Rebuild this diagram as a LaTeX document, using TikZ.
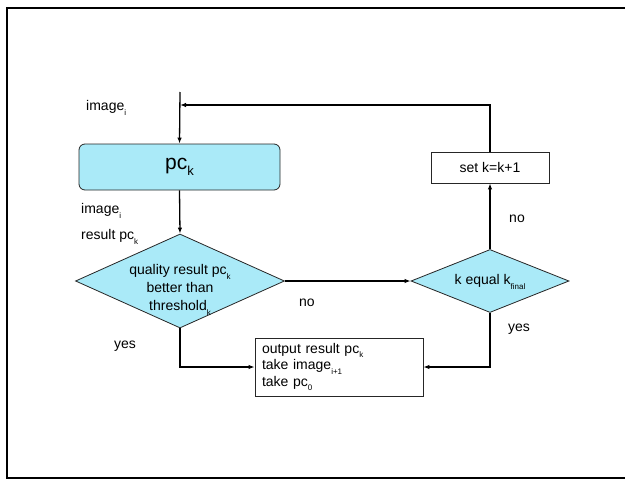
\documentclass[tikz,border=0pt]{standalone}
\usepackage{fontspec}
\setmainfont{Liberation Sans}
\usetikzlibrary{shapes.geometric,arrows.meta}
\definecolor{boxfill}{RGB}{170,234,248}
\newcommand\lsub[1]{\raisebox{-0.3em}{\fontsize{8}{8}\selectfont #1}}
\newcommand\bsub[1]{\raisebox{-0.3em}{\fontsize{13}{13}\selectfont #1}}
\begin{document}
\begin{tikzpicture}[x=1pt,y=-1pt,
  txt/.style={font=\fontsize{14}{16.5}\selectfont, inner sep=0pt},
  conn/.style={line width=1.3pt, -{Latex[length=6pt,width=4.5pt]}},
  shapebox/.style={draw=black!85, line width=0.8pt},
  dia/.style={shapebox, diamond, fill=boxfill, inner sep=0pt}]
\useasboundingbox (0,0) rectangle (625,479);
\draw[line width=2.3pt] (627,8) -- (7,8) -- (7,478) -- (627,478);

% nodes
\node[shapebox, fill=boxfill, rounded corners=6pt, minimum width=201pt, minimum height=46pt,
      font=\fontsize{21}{24}\selectfont] (pc) at (179.5,167) {pc\bsub{k}};
\node[dia, minimum width=209pt, minimum height=94pt] (d1) at (180,281) {};
\node[txt, align=center, font=\fontsize{14}{18}\selectfont] (d1t) at (180,290)
  {quality result pc\lsub{k}\\better than\\threshold\lsub{k}};
\node[dia, minimum width=158pt, minimum height=63pt] (d2) at (490,281) {};
\node[txt] (d2t) at (490,282) {k equal k\lsub{final}};
\node[shapebox, fill=white, minimum width=118pt, minimum height=31pt, txt] (set) at (490,167.5) {set k=k+1};
\node[shapebox, fill=white, minimum width=168pt, minimum height=58pt, align=left,
      text width=154pt, inner xsep=7pt, inner ysep=0pt, font=\fontsize{14}{16.5}\selectfont] (out) at (339,367)
  {output result pc\lsub{k}\\take image\lsub{i+1}\\take pc\lsub{0}};

% labels
\node[txt, anchor=west] (l1) at (86,108) {image\lsub{i}};
\node[txt, anchor=west] (l2) at (81,211) {image\lsub{i}};
\node[txt, anchor=west] (l3) at (81,237) {result pc\lsub{k}};
\node[txt] (no1) at (307,303) {no};
\node[txt] (no2) at (517,219) {no};
\node[txt] (yes1) at (125,346) {yes};
\node[txt] (yes2) at (519,329) {yes};

% connectors
\coordinate (top) at (180,92);
\coordinate (join) at (180,105);
\draw[conn] (top) -- (pc.north);
\draw[conn] (set.north) |- (join);
\draw[conn] (pc.south) -- (d1.north);
\draw[conn] (d1.east) -- (d2.west);
\draw[conn] (d2.north) -- (set.south);
\draw[conn] (d2.south) |- (out.east);
\draw[conn] (d1.south) |- (out.west);
\end{tikzpicture}
\end{document}
